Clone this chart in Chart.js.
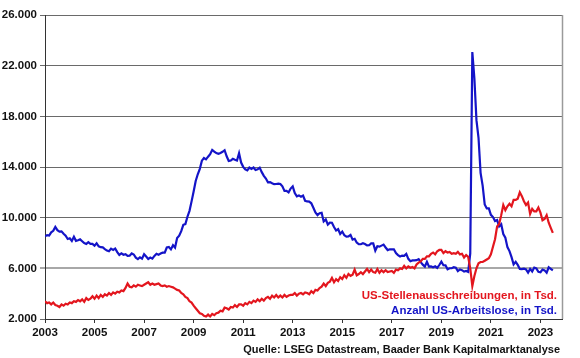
<!DOCTYPE html>
<html>
<head>
<meta charset="utf-8">
<script src="https://cdn.jsdelivr.net/npm/chart.js@4/dist/chart.umd.min.js"></script>
<style>
  html, body { margin: 0; padding: 0; background: #fff; }
  #wrap { width: 580px; height: 358px; position: relative; }
</style>
</head>
<body>
<div id="wrap"><canvas id="chart"></canvas></div>
<script>
// monthly data, Jan 2003 - Jul 2023 (thousands)
const startYear = 2003;
const yearTicks = [2003, 2005, 2007, 2009, 2011, 2013, 2015, 2017, 2019, 2021, 2023];
const valueTicks = [2000, 6000, 10000, 14000, 18000, 22000, 26000];

const jobOpenings = [
    3400, 3250, 3300, 3150, 3300, 3100, 3050, 2950, 3150, 3050, 3200, 3150,
    3300, 3250, 3400, 3350, 3500, 3400, 3550, 3350, 3650, 3500, 3600, 3800,
    3600, 3850, 3650, 3900, 3750, 3950, 3850, 4050, 3900, 4100, 4000, 4150,
    4100, 4250, 4200, 4450, 4800, 4550, 4500, 4650, 4550, 4700, 4650, 4600,
    4700, 4800, 4900, 4700, 4800, 4700, 4750, 4800, 4650, 4600, 4650, 4550,
    4600, 4550, 4500, 4400, 4300, 4250, 4050, 3950, 3750, 3650, 3400, 3300,
    3050, 2850, 2650, 2450, 2400, 2250, 2200, 2350, 2200, 2400, 2300, 2450,
    2500, 2650, 2600, 2900, 2850, 2750, 2950, 2900, 3100, 2950, 3150, 3150,
    3050, 3250, 3150, 3350, 3250, 3450, 3350, 3550, 3400, 3600, 3450, 3650,
    3750, 3600, 3850, 3700, 3900, 3700, 3850, 3700, 3900, 3750, 3850, 3900,
    3900, 4050, 3850, 4000, 4050, 3950, 4100, 4050, 3950, 4200, 4050, 4300,
    4250, 4450, 4550, 4800, 4600, 4850, 4950, 5250, 4900, 5150, 5000, 5300,
    5150, 5450, 5250, 5550, 5400, 5500, 5900, 5450, 5550, 5700, 5550, 5750,
    5950, 5700, 5900, 5700, 5650, 5950, 5650, 5850, 5700, 5850, 5700, 5750,
    5800, 5650, 5900, 5850, 6000, 5950, 6200, 6000, 6150, 6050, 6100, 6000,
    6300, 6450, 6550, 6750, 6750, 6950, 6950, 7150, 7250, 7100, 7350, 7450,
    7450, 7200, 7350, 7250, 7300, 7150, 7200, 7150, 7300, 7100, 7150, 6850,
    7050, 6900, 6000, 4600, 5400, 6000, 6400, 6500, 6500, 6600, 6700, 6800,
    7100, 7700, 8300, 9300, 9500, 10200, 11000, 10600, 10900, 11100, 10900, 11400,
    11400, 11500, 12000, 11700, 11300, 11000, 11200, 10300, 10700, 10500, 10500, 10800,
    10400, 9800, 9900, 10200, 9600, 9200, 8800
];

const unemployed = [
    8520, 8618, 8588, 8842, 8957, 9266, 9011, 8896, 8921, 8732, 8576, 8317,
    8370, 8167, 8491, 8170, 8212, 8286, 8136, 7990, 7927, 8061, 7932, 7934,
    7784, 7980, 7737, 7672, 7651, 7524, 7406, 7345, 7553, 7453, 7566, 7279,
    7064, 7184, 7072, 7120, 6980, 7001, 7175, 7091, 6847, 6727, 6872, 6762,
    7116, 6927, 6731, 6850, 6766, 6979, 7149, 7067, 7170, 7237, 7240, 7645,
    7685, 7497, 7822, 7637, 8395, 8575, 8937, 9438, 9494, 10074, 10538, 11286,
    12058, 12898, 13426, 13853, 14499, 14707, 14601, 14814, 15009, 15352, 15219, 15098,
    15046, 15113, 15202, 15325, 14849, 14474, 14512, 14648, 14579, 14516, 15081, 14348,
    14013, 13820, 13737, 13957, 13855, 13962, 13763, 13818, 13948, 13594, 13302, 13093,
    12797, 12813, 12713, 12646, 12660, 12692, 12656, 12471, 12115, 12124, 12005, 12298,
    12471, 11950, 11689, 11760, 11654, 11751, 11335, 11279, 11270, 11136, 10787, 10404,
    10202, 10349, 10380, 9702, 9859, 9460, 9608, 9599, 9262, 8990, 9090, 8717,
    8903, 8610, 8504, 8526, 8640, 8270, 8331, 8029, 7904, 7901, 7977, 7919,
    7811, 7822, 7964, 7966, 7401, 7741, 7714, 7793, 7873, 7646, 7443, 7507,
    7498, 7500, 7205, 7050, 6936, 7010, 6990, 7137, 6750, 6557, 6623, 6622,
    6645, 6727, 6484, 6293, 6137, 6523, 6139, 6149, 6090, 6160, 6028, 6263,
    6526, 6245, 6240, 5928, 6008, 6006, 6089, 6046, 5786, 5909, 5855, 5744,
    5796, 5717, 7185, 23078, 20985, 17697, 16308, 13542, 12535, 11049, 10728, 10736,
    10221, 10044, 9736, 9812, 9316, 9484, 8704, 8414, 7674, 7363, 6881, 6313,
    6516, 6270, 5952, 5945, 5982, 5912, 5668, 5956, 5753, 6059, 5994, 5722,
    5694, 5906, 5838, 5657, 6078, 5957, 5836
];

const redLabel = 'US-Stellenausschreibungen, in Tsd.';
const blueLabel = 'Anzahl US-Arbeitslose, in Tsd.';
const sourceText = 'Quelle: LSEG Datastream, Baader Bank Kapitalmarktanalyse';

const RED = '#e3161e';
const BLUE = '#1414c8';
const FONT = '"Liberation Sans", Arial, sans-serif';

function toPoints(arr) {
    return arr.map((v, i) => ({ x: startYear + i / 12, y: v }));
}

function fmt(v) {
    return (v / 1000).toFixed(0) + '.000';
}

const extras = {
    id: 'extras',
    afterDraw(chart) {
        const ctx = chart.ctx;
        const a = chart.chartArea;
        ctx.save();
        ctx.strokeStyle = '#9a9a9a';
        ctx.lineWidth = 1.5;
        ctx.beginPath();
        ctx.moveTo(a.right + 0.5, a.top);
        ctx.lineTo(a.right + 0.5, a.bottom);
        ctx.stroke();

        ctx.font = 'bold 11.5px ' + FONT;
        ctx.textAlign = 'right';
        ctx.textBaseline = 'middle';
        ctx.fillStyle = RED;
        ctx.fillText(redLabel, 557, 296);
        ctx.fillStyle = BLUE;
        ctx.fillText(blueLabel, 557, 311);

        ctx.font = 'bold 11px ' + FONT;
        ctx.fillStyle = '#111';
        ctx.fillText(sourceText, 560, 350);
        ctx.restore();
    }
};

new Chart(document.getElementById('chart'), {
    type: 'line',
    data: {
        datasets: [
            {
                label: redLabel,
                data: toPoints(jobOpenings),
                borderColor: RED,
                borderWidth: 2.2,
                pointRadius: 0,
                tension: 0
            },
            {
                label: blueLabel,
                data: toPoints(unemployed),
                borderColor: BLUE,
                borderWidth: 2.2,
                pointRadius: 0,
                tension: 0
            }
        ]
    },
    options: {
        responsive: true,
        maintainAspectRatio: false,
        animation: false,
        events: [],
        layout: { padding: { top: 15, right: 18, left: 0, bottom: 0 } },
        plugins: {
            legend: { display: false },
            tooltip: { enabled: false }
        },
        scales: {
            x: {
                type: 'linear',
                min: 2003,
                max: 2023.87,
                afterFit: s => { s.height = 39; },
                afterBuildTicks: s => { s.ticks = yearTicks.map(v => ({ value: v })); },
                ticks: {
                    autoSkip: false,
                    maxRotation: 0,
                    padding: 3,
                    color: '#111',
                    font: { family: FONT, size: 11.5, weight: 'bold' },
                    callback: v => String(v)
                },
                grid: { drawOnChartArea: false, tickLength: 4, color: '#333' },
                border: { color: '#333', width: 1 }
            },
            y: {
                min: 2000,
                max: 26000,
                afterFit: s => { s.width = 45; },
                afterBuildTicks: s => { s.ticks = valueTicks.map(v => ({ value: v })); },
                ticks: {
                    padding: 3,
                    color: '#111',
                    font: { family: FONT, size: 11.5, weight: 'bold' },
                    callback: v => fmt(v)
                },
                grid: {
                    tickLength: 5,
                    color: c => (c.tick && c.tick.value === 6000) ? '#a8a8a8' : '#6a6a6a',
                    lineWidth: c => (c.tick && c.tick.value === 6000) ? 2 : 1
                },
                border: { color: '#333', width: 1 }
            }
        }
    },
    plugins: [extras]
});
</script>
</body>
</html>
